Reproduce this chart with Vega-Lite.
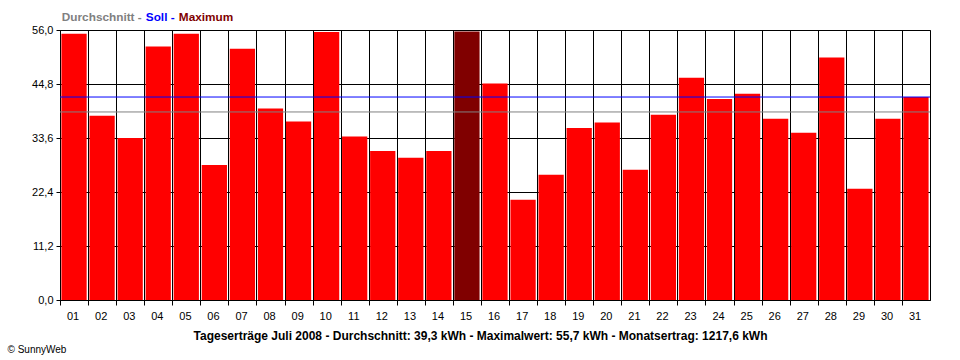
{
  "$schema": "https://vega.github.io/schema/vega-lite/v6.json",
  "width": 870,
  "height": 270,
  "autosize": {"type": "none"},
  "padding": {"left": 60, "top": 30, "right": 30, "bottom": 60},
  "background": "white",
  "config": {"view": {"stroke": "black", "strokeWidth": 1}, "font": "Liberation Sans"},
  "datasets": {
    "tage": [
      {"tag": "01", "kwh": 55.2, "typ": "Tag"},
      {"tag": "02", "kwh": 38.2, "typ": "Tag"},
      {"tag": "03", "kwh": 33.6, "typ": "Tag"},
      {"tag": "04", "kwh": 52.6, "typ": "Tag"},
      {"tag": "05", "kwh": 55.2, "typ": "Tag"},
      {"tag": "06", "kwh": 28.0, "typ": "Tag"},
      {"tag": "07", "kwh": 52.1, "typ": "Tag"},
      {"tag": "08", "kwh": 39.7, "typ": "Tag"},
      {"tag": "09", "kwh": 37.0, "typ": "Tag"},
      {"tag": "10", "kwh": 55.6, "typ": "Tag"},
      {"tag": "11", "kwh": 33.9, "typ": "Tag"},
      {"tag": "12", "kwh": 30.9, "typ": "Tag"},
      {"tag": "13", "kwh": 29.5, "typ": "Tag"},
      {"tag": "14", "kwh": 30.9, "typ": "Tag"},
      {"tag": "15", "kwh": 55.7, "typ": "Maximum"},
      {"tag": "16", "kwh": 44.9, "typ": "Tag"},
      {"tag": "17", "kwh": 20.8, "typ": "Tag"},
      {"tag": "18", "kwh": 26.0, "typ": "Tag"},
      {"tag": "19", "kwh": 35.7, "typ": "Tag"},
      {"tag": "20", "kwh": 36.8, "typ": "Tag"},
      {"tag": "21", "kwh": 27.0, "typ": "Tag"},
      {"tag": "22", "kwh": 38.4, "typ": "Tag"},
      {"tag": "23", "kwh": 46.1, "typ": "Tag"},
      {"tag": "24", "kwh": 41.7, "typ": "Tag"},
      {"tag": "25", "kwh": 42.8, "typ": "Tag"},
      {"tag": "26", "kwh": 37.6, "typ": "Tag"},
      {"tag": "27", "kwh": 34.7, "typ": "Tag"},
      {"tag": "28", "kwh": 50.3, "typ": "Tag"},
      {"tag": "29", "kwh": 23.1, "typ": "Tag"},
      {"tag": "30", "kwh": 37.6, "typ": "Tag"},
      {"tag": "31", "kwh": 42.1, "typ": "Tag"}
    ],
    "linien": [
      {"typ": "Durchschnitt", "kwh": 39.0},
      {"typ": "Soll", "kwh": 42.1}
    ]
  },
  "layer": [
    {
      "data": {"name": "tage"},
      "mark": {"type": "bar"},
      "encoding": {
        "x": {
          "field": "tag",
          "type": "nominal",
          "sort": null,
          "scale": {"paddingInner": 0.1, "paddingOuter": 0.05},
          "axis": {
            "title": "Tageserträge Juli 2008 - Durchschnitt: 39,3 kWh - Maximalwert: 55,7 kWh - Monatsertrag: 1217,6 kWh",
            "labelAngle": 0,
            "bandPosition": 0,
            "tickOffset": -1.4,
            "labelOffset": 0,
            "grid": true,
            "gridColor": "black",
            "gridOpacity": 1,
            "gridWidth": 1,
            "tickColor": "black",
            "tickSize": 5,
            "domainColor": "black",
            "labelColor": "black",
            "labelFont": "Liberation Sans",
            "labelFontSize": 11,
            "labelPadding": 5,
            "titleFont": "Liberation Sans",
            "titleFontSize": 12,
            "titleFontWeight": "bold",
            "titleColor": "black",
            "titleX": 420,
            "titleY": 35,
            "titleBaseline": "middle"
          }
        },
        "y": {
          "field": "kwh",
          "type": "quantitative",
          "scale": {"domain": [0, 56], "nice": false, "zero": true},
          "axis": {
            "values": [0, 11.2, 22.4, 33.6, 44.8, 56],
            "format": ".1f",
            "labelExpr": "replace(datum.label, '.', ',')",
            "grid": true,
            "gridColor": "black",
            "gridOpacity": 1,
            "gridWidth": 1,
            "tickColor": "black",
            "tickSize": 4,
            "domainColor": "black",
            "labelColor": "black",
            "labelFont": "Liberation Sans",
            "labelFontSize": 11,
            "labelPadding": 3,
            "title": "© SunnyWeb",
            "titleAngle": 0,
            "titleX": -53,
            "titleY": 319,
            "titleAlign": "left",
            "titleBaseline": "middle",
            "titleFont": "Liberation Sans",
            "titleFontSize": 10,
            "titleFontWeight": "normal",
            "titleColor": "black"
          }
        },
        "color": {
          "field": "typ",
          "type": "nominal",
          "scale": {
            "domain": ["Durchschnitt", "Soll", "Maximum", "Tag"],
            "range": ["#808080", "#0000ff", "#800000", "#ff0000"]
          },
          "legend": {
            "orient": "none",
            "legendX": -10,
            "legendY": -19,
            "direction": "horizontal",
            "gridAlign": "none",
            "values": ["Durchschnitt", "Soll", "Maximum"],
            "title": null,
            "symbolSize": 0,
            "symbolOpacity": 0,
            "symbolStrokeWidth": 0,
            "labelOffset": 0,
            "columnPadding": -8,
            "labelFont": "Liberation Sans",
            "labelFontSize": 11.8,
            "labelFontWeight": "bold",
            "labelColor": {"expr": "datum.value == 'Soll' ? '#0000ff' : datum.value == 'Maximum' ? '#800000' : '#808080'"},
            "labelExpr": "datum.label == 'Maximum' ? datum.label : datum.label + ' -'"
          }
        }
      }
    },
    {
      "data": {"name": "linien"},
      "mark": {"type": "rule", "strokeWidth": 1},
      "encoding": {
        "y": {"field": "kwh", "type": "quantitative"},
        "color": {"field": "typ", "type": "nominal"}
      }
    }
  ]
}
